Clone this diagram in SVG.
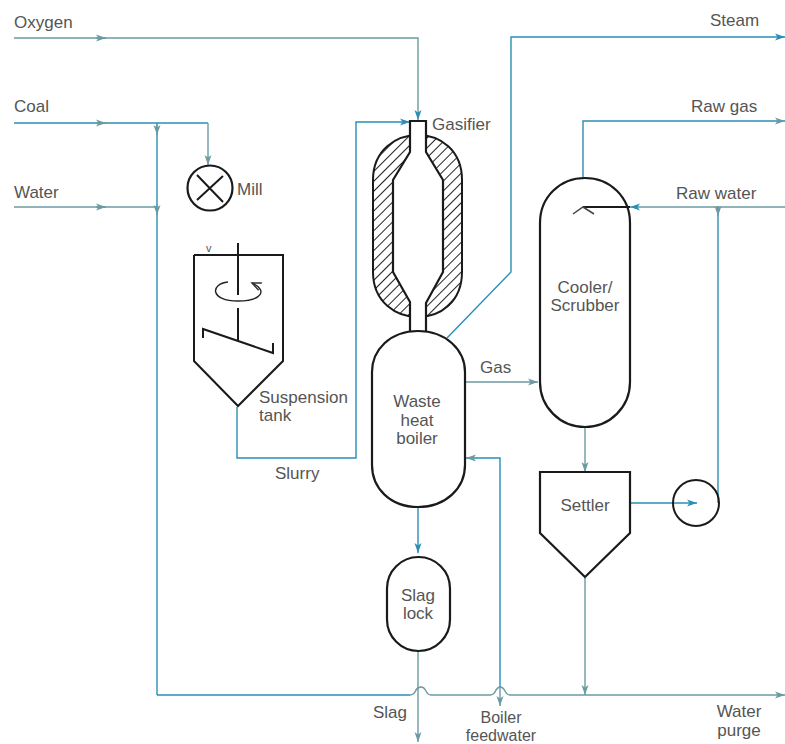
<svg xmlns="http://www.w3.org/2000/svg" width="785" height="744" viewBox="0 0 785 744">
<defs>
<marker id="a" markerWidth="12" markerHeight="8" refX="10" refY="4" orient="auto" markerUnits="userSpaceOnUse"><path d="M0 0.5L10 4L0 7.5L2.5 4Z" fill="#2a8fb5"/></marker>
<marker id="g" markerWidth="12" markerHeight="8" refX="10" refY="4" orient="auto" markerUnits="userSpaceOnUse"><path d="M0 0.5L10 4L0 7.5L2.5 4Z" fill="#6b9aa3"/></marker>
<marker id="k" markerWidth="12" markerHeight="10" refX="9" refY="5" orient="auto" markerUnits="userSpaceOnUse"><path d="M0 1L9 5L0 9" fill="none" stroke="#333" stroke-width="1.4"/></marker>
<pattern id="h" width="7" height="7" patternUnits="userSpaceOnUse" patternTransform="rotate(-45)"><rect width="7" height="7" fill="#fff"/><line x1="0" y1="0" x2="7" y2="0" stroke="#222" stroke-width="2"/></pattern>
</defs>
<style>
.c{fill:none;stroke:#2a8fb5;stroke-width:1.4}
.t{fill:none;stroke:#6b9aa3;stroke-width:1.4}
.n{fill:#fff;stroke:#1a1a1a;stroke-width:2.2}
.o{fill:none;stroke:#1a1a1a;stroke-width:2}
text{font-family:"Liberation Sans",Arial,sans-serif;font-size:17px;fill:#555}
</style>
<rect width="785" height="744" fill="#fff"/>
<g id="connectors">
<path class="t" d="M14 38H418V120" marker-end="url(#a)"/>
<path class="t" d="M96 38H106" marker-end="url(#g)"/>
<path class="c" d="M14 123H208"/>
<path class="t" d="M96 123H106" marker-end="url(#g)"/>
<path class="t" d="M208 123V165" marker-end="url(#g)"/>
<path class="t" d="M14 207H157"/>
<path class="t" d="M96 207H106" marker-end="url(#g)"/>
<path class="c" d="M157 695V123"/>
<path class="t" d="M157 125V135" marker-end="url(#g)"/>
<path class="t" d="M157 205V215" marker-end="url(#g)"/>
<path class="c" d="M157 695H410"/>
<path class="t" d="M410 695Q414 695 416 690Q418 687 421 687Q424 687 426 691Q428 695 431 695H490Q494 695 496 690Q498 687 500 687Q503 687 505 691Q507 695 510 695"/>
<path class="t" d="M510 695H785" marker-end="url(#g)"/>
<path class="c" d="M237 407V458H356V122H410" marker-end="url(#a)"/>
<path class="c" d="M447 338L511 272V37H785" marker-end="url(#a)"/>
<path class="c" d="M583 178V121H785" marker-end="url(#g)"/>
<path class="t" d="M785 207H630" marker-end="url(#a)"/>
<path class="c" d="M718 207V503"/>
<path class="t" d="M718 206V216" marker-end="url(#g)"/>
<path class="c" d="M631 503H697" marker-end="url(#a)"/>
<path class="t" d="M465 382H538" marker-end="url(#g)"/>
<path class="c" d="M500 687V458H466" marker-end="url(#g)"/>
<path class="t" d="M500 687V706" marker-end="url(#g)"/>
<path class="t" d="M585 427V472" marker-end="url(#g)"/>
<path class="t" d="M585 578V695" marker-end="url(#g)"/>
<path class="c" d="M418 507V553" marker-end="url(#a)"/>
<path class="t" d="M418 651V742" marker-end="url(#g)"/>
</g>
<g id="gasifier">
<path d="M418 135C396 135 373 150 373 180V272C373 302 396 317 418 317C440 317 462 302 462 272V180C462 150 440 135 418 135Z" fill="url(#h)" stroke="#1a1a1a" stroke-width="2"/>
<path d="M410 121H426V152L443 180V272L426 303V332H410V302L393 272V180L410 152Z" class="n"/>
</g>
<g id="boiler"><path class="n" d="M372 372C372 350 390 331 418 331C446 331 465 350 465 372V465C465 488 446 507 418 507C390 507 372 488 372 465Z"/><text x="417" y="407" text-anchor="middle">Waste</text><text x="417" y="426" text-anchor="middle">heat</text><text x="417" y="444" text-anchor="middle">boiler</text></g>
<g id="slaglock"><rect class="n" x="387" y="557" width="63" height="94" rx="31.5"/><text x="418" y="601" text-anchor="middle">Slag</text><text x="418" y="619" text-anchor="middle">lock</text></g>
<g id="cooler"><path class="n" d="M540 223C540 197 560 178 585 178C610 178 630 197 630 223V382C630 407 610 427 585 427C560 427 540 407 540 382Z"/><path d="M630 207H583" class="o" stroke-width="1.5"/><path d="M573 214L583 207L594 214" fill="none" stroke="#444" stroke-width="1.5"/><text x="585" y="293" text-anchor="middle">Cooler/</text><text x="585" y="311" text-anchor="middle">Scrubber</text></g>
<g id="settler"><path class="n" d="M540 472H630V533L585 577L540 533Z"/><text x="585" y="511" text-anchor="middle">Settler</text></g>
<g id="pump"><circle cx="696" cy="503" r="23" fill="none" stroke="#1a1a1a" stroke-width="2"/></g>
<g id="mill"><circle class="n" cx="210" cy="188" r="22.5"/><path class="o" d="M197 175L223 202M223 176L197 200" stroke-width="1.6"/><text x="237" y="195">Mill</text></g>
<g id="tank"><path class="o" d="M194 255V361L238 406L283 361V255H194" stroke="#222"/><path class="o" d="M238 243V295M238 308V341M203 338V329L273 353V343" stroke-width="1.6"/><path d="M228 282C210 284 210 301 238 301C262 301 268 290 252 283" fill="none" stroke="#222" stroke-width="1.4" marker-end="url(#k)"/><text x="206" y="252" style="font-size:11px">v</text><text x="259" y="403">Suspension</text><text x="259" y="421">tank</text></g>
<g id="labels">
<text x="14" y="28">Oxygen</text><text x="14" y="112">Coal</text><text x="14" y="198">Water</text>
<text x="432" y="130">Gasifier</text><text x="710" y="26">Steam</text><text x="691" y="112">Raw gas</text><text x="676" y="199">Raw water</text>
<text x="480" y="373">Gas</text><text x="275" y="479">Slurry</text><text x="373" y="718">Slag</text>
<text x="501" y="723" text-anchor="middle" style="font-size:16px">Boiler</text><text x="501" y="741" text-anchor="middle" style="font-size:16px">feedwater</text>
<text x="739" y="717" text-anchor="middle">Water</text><text x="739" y="736" text-anchor="middle">purge</text>
</g>
</svg>
